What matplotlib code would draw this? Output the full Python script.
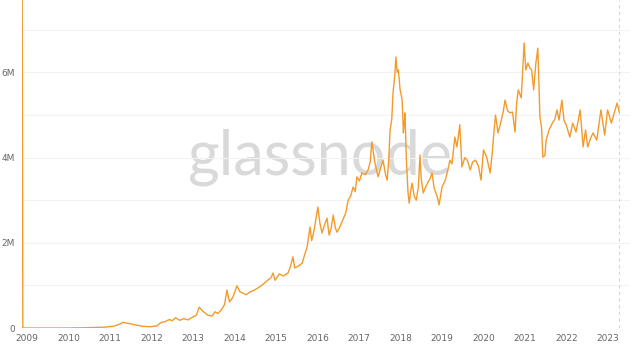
import matplotlib
matplotlib.use("Agg")
from matplotlib import pyplot as plt
from matplotlib import transforms
import numpy as np

# approximate readings (decimal year, value in millions)
years = [2009.0, 2009.02, 2010.0, 2010.5, 2011.0, 2011.2, 2011.35, 2011.43, 2011.5, 2011.7,
         2011.9, 2012.1, 2012.25, 2012.35, 2012.45, 2012.55, 2012.62, 2012.7, 2012.8, 2012.9,
         2013.0, 2013.1, 2013.2, 2013.27, 2013.35, 2013.48, 2013.58, 2013.65, 2013.72, 2013.8,
         2013.88, 2013.94, 2014.0, 2014.08, 2014.18, 2014.25, 2014.32, 2014.4, 2014.5, 2014.6,
         2014.7, 2014.8, 2014.93, 2015.0, 2015.05, 2015.1, 2015.2, 2015.3, 2015.41, 2015.47,
         2015.53, 2015.57, 2015.65, 2015.75, 2015.82, 2015.87, 2015.94, 2015.98, 2016.04, 2016.13,
         2016.18, 2016.23, 2016.3, 2016.35, 2016.4, 2016.45, 2016.5, 2016.55, 2016.59, 2016.65,
         2016.73, 2016.8, 2016.86, 2016.92, 2016.98, 2017.03, 2017.07, 2017.13, 2017.19, 2017.27,
         2017.34, 2017.39, 2017.43, 2017.5, 2017.58, 2017.64, 2017.7, 2017.76, 2017.8, 2017.84,
         2017.87, 2017.91, 2017.94, 2017.98, 2018.01, 2018.04, 2018.07, 2018.11, 2018.16, 2018.19,
         2018.21, 2018.23, 2018.26, 2018.3, 2018.33, 2018.38, 2018.4, 2018.45, 2018.5, 2018.55,
         2018.59, 2018.62, 2018.67, 2018.72, 2018.77, 2018.83, 2018.88, 2018.93, 2019.0, 2019.05,
         2019.12, 2019.2, 2019.26, 2019.31, 2019.36, 2019.43, 2019.48, 2019.55, 2019.6, 2019.67,
         2019.73, 2019.8, 2019.86, 2019.93, 2020.0, 2020.06, 2020.12, 2020.2, 2020.28, 2020.33,
         2020.37, 2020.41, 2020.47, 2020.53, 2020.6, 2020.64, 2020.7, 2020.76, 2020.82, 2020.88,
         2020.92, 2020.96, 2021.03, 2021.1, 2021.14, 2021.19, 2021.24, 2021.28, 2021.33, 2021.38,
         2021.43, 2021.48, 2021.52, 2021.55, 2021.6, 2021.63, 2021.7, 2021.78, 2021.84, 2021.89,
         2021.94, 2022.01, 2022.06, 2022.12, 2022.2, 2022.27, 2022.35, 2022.45, 2022.52, 2022.58,
         2022.63, 2022.7, 2022.76, 2022.85, 2022.95, 2023.04, 2023.11, 2023.2, 2023.27, 2023.34,
         2023.39]
values = [10.0, 0.0, 0.0, 0.005, 0.02, 0.04, 0.09, 0.13, 0.12, 0.08,
          0.04, 0.03, 0.05, 0.13, 0.15, 0.2, 0.17, 0.24, 0.18, 0.22,
          0.19, 0.25, 0.3, 0.49, 0.4, 0.3, 0.28, 0.38, 0.34, 0.42,
          0.55, 0.89, 0.61, 0.72, 0.99, 0.85, 0.82, 0.78, 0.85, 0.89,
          0.95, 1.02, 1.13, 1.18, 1.29, 1.12, 1.27, 1.22, 1.29, 1.45,
          1.67, 1.41, 1.45, 1.52, 1.75, 1.9, 2.37, 2.05, 2.3, 2.84,
          2.45, 2.23, 2.45, 2.58, 2.18, 2.35, 2.65, 2.35, 2.25, 2.35,
          2.54, 2.7, 3.0, 3.1, 3.31, 3.2, 3.55, 3.45, 3.64, 3.6,
          3.71, 3.9, 4.37, 3.9, 3.55, 3.75, 3.94, 3.6, 3.47, 4.0,
          4.65, 4.9, 5.52, 5.9, 6.36, 6.0, 6.06, 5.6, 5.35, 4.58,
          4.8, 5.05, 4.0, 3.2, 2.93, 3.3, 3.4, 3.1, 3.0, 3.3,
          4.06, 3.5, 3.17, 3.3, 3.4, 3.5, 3.64, 3.29, 3.1, 2.89,
          3.3, 3.47, 3.7, 3.94, 3.85, 4.48, 4.25, 4.77, 3.78, 4.0,
          3.94, 3.71, 3.9, 3.94, 3.8, 3.47, 4.18, 4.0, 3.64, 4.1,
          4.58, 5.0, 4.58, 4.8, 5.1, 5.35, 5.1, 5.05, 5.07, 4.6,
          5.3, 5.59, 5.4, 6.69, 6.06, 6.22, 6.1, 6.06, 5.59, 6.2,
          6.57, 4.95, 4.7, 4.01, 4.05, 4.41, 4.65, 4.81, 4.9, 5.12,
          4.88, 5.35, 4.88, 4.75, 4.48, 4.81, 4.6, 5.12, 4.25, 4.65,
          4.25, 4.45, 4.58, 4.41, 5.12, 4.53, 5.12, 4.81, 5.05, 5.28,
          5.07]
year_ticks = list(range(2009, 2024))
y_ticks = [0, 2, 4, 6]
y_labels = ["0", "2M", "4M", "6M"]

fig = plt.figure(figsize=(6.4, 3.54), dpi=100)
ax = fig.add_axes([22 / 640, 26 / 354, 608 / 640, 328 / 354])

ax.set_xlim(2009.0, 2009.0 + 608 / 41.5)
ax.set_ylim(0, 328 / 42.6)

# watermark
ax.text(0.49, 0.52, "glassnode", transform=ax.transAxes, ha="center", va="center",
        fontsize=44, color="#d9d9d9", family="Lato", zorder=0)

for v in range(1, 8):
    ax.axhline(v, color="#f2f2f2", lw=0.8, zorder=1)
ax.axhline(0, color="#e6e6e6", lw=0.8, zorder=1)
ax.axvline(2023.39, color="#d6d6d6", lw=0.8, ls=(0, (3, 3)), zorder=1)

ax.plot(years, values, color="#f39a2b", lw=1.0, zorder=3, clip_on=True)

ax.set_xticks(year_ticks)
ax.set_xticklabels([str(y) for y in year_ticks])
ax.set_yticks(y_ticks)
ax.set_yticklabels(y_labels)
ax.tick_params(axis="both", length=0, labelsize=6.5, labelcolor="#666666")
ax.tick_params(axis="x", pad=4)
ax.tick_params(axis="y", pad=5)
shift = transforms.ScaledTranslation(5 / 100, 0, fig.dpi_scale_trans)
for lbl in ax.get_xticklabels():
    lbl.set_transform(lbl.get_transform() + shift)

for s in ax.spines.values():
    s.set_visible(False)

fig.savefig("out.png", dpi=100, facecolor="white")
